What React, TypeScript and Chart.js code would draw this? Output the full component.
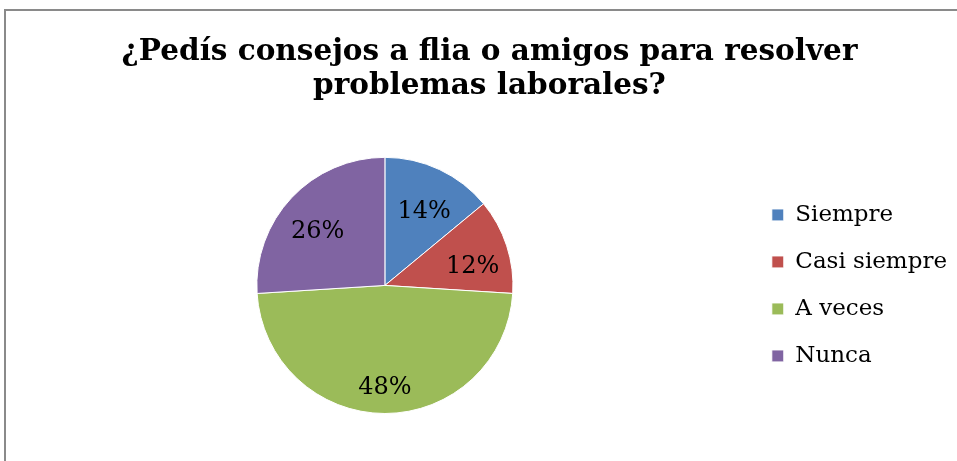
import React, { useEffect, useRef } from "react";
import { Chart, registerables } from "chart.js";

Chart.register(...registerables);

const titleLines = ["¿Pedís consejos a flia o amigos para resolver", "problemas laborales?"];
const categories = ["Siempre", "Casi siempre", "A veces", "Nunca"];
const values = [14, 12, 48, 26];
const colors = ["#4F81BD", "#C0504D", "#9BBB59", "#8064A2"];

const SERIF = "'DejaVu Serif', serif";

const framePlugin = {
  id: "frame",
  beforeDraw(chart: any) {
    const ctx = chart.ctx;
    ctx.save();
    ctx.strokeStyle = "#8a8a8a";
    ctx.lineWidth = 2;
    ctx.beginPath();
    ctx.moveTo(5, chart.height);
    ctx.lineTo(5, 10);
    ctx.lineTo(chart.width, 10);
    ctx.stroke();
    ctx.restore();
  },
};

const labelPlugin = {
  id: "sliceLabels",
  afterDatasetsDraw(chart: any) {
    const ctx = chart.ctx;
    const meta = chart.getDatasetMeta(0);
    const data = chart.data.datasets[0].data as number[];
    const total = data.reduce((a, b) => a + b, 0);
    ctx.save();
    ctx.font = `24px ${SERIF}`;
    ctx.fillStyle = "#000";
    ctx.textAlign = "center";
    ctx.textBaseline = "alphabetic";
    meta.data.forEach((arc: any, i: number) => {
      const { x, y, startAngle, endAngle, outerRadius } = arc.getProps(
        ["x", "y", "startAngle", "endAngle", "outerRadius"],
        true
      );
      const mid = (startAngle + endAngle) / 2;
      const r = outerRadius * 0.72;
      const pct = Math.round((data[i] / total) * 100);
      ctx.fillText(pct + "%", x + Math.cos(mid) * r, y + Math.sin(mid) * r + 16);
    });
    ctx.restore();
  },
};

export default function App() {
  const ref = useRef<HTMLCanvasElement>(null);
  useEffect(() => {
    if (!ref.current) return;
    const chart = new Chart(ref.current, {
      type: "pie",
      data: {
        labels: categories,
        datasets: [
          {
            data: values,
            backgroundColor: colors,
            borderColor: "#ffffff",
            borderWidth: 1,
          },
        ],
      },
      options: {
        responsive: false,
        animation: false,
        layout: { padding: { left: 22, right: 0, top: 0, bottom: 47 } },
        plugins: {
          title: {
            display: true,
            text: titleLines,
            color: "#000",
            font: { family: SERIF, size: 29.5, weight: "bold", lineHeight: 1.15 },
            padding: { top: 35, bottom: 54 },
          },
          legend: {
            position: "right",
            fullSize: false,
            labels: {
              color: "#000",
              font: { family: SERIF, size: 23 },
              boxWidth: 12,
              boxHeight: 12,
              padding: 24,
            },
          },
          tooltip: { enabled: false },
        },
      },
      plugins: [framePlugin, labelPlugin],
    });
    return () => chart.destroy();
  }, []);
  return (
    <div style={{ position: "absolute", left: 0, top: 0, width: 957, height: 461, background: "#fff" }}>
      <canvas ref={ref} width={957} height={461} style={{ display: "block" }} />
    </div>
  );
}
